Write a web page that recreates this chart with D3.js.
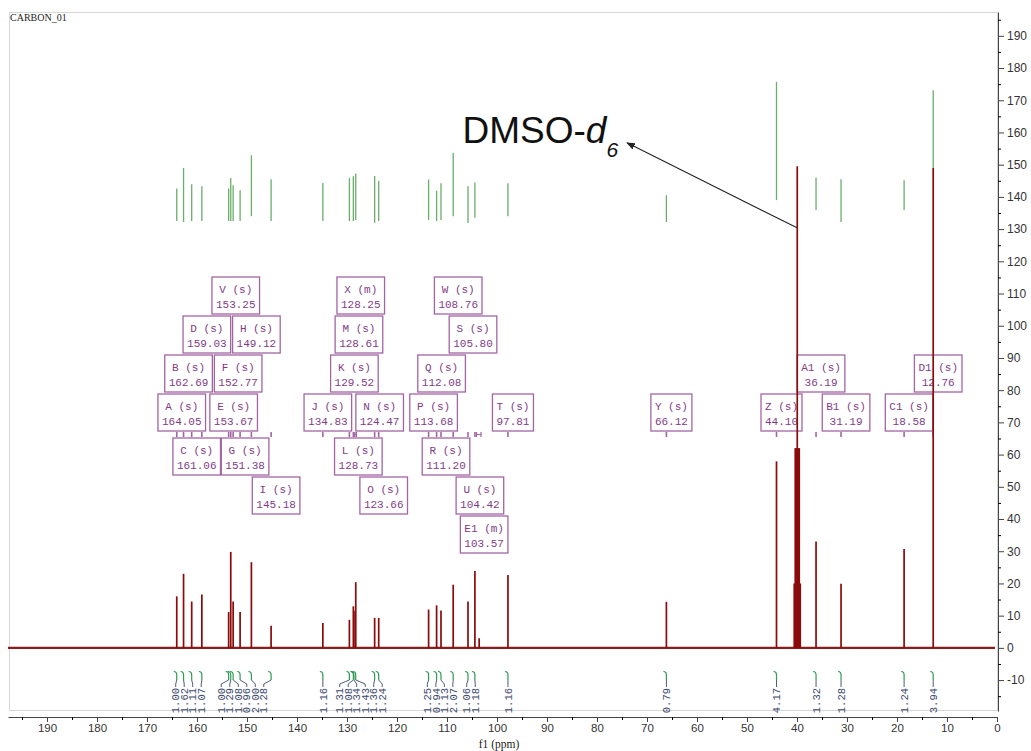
<!DOCTYPE html>
<html>
<head>
<meta charset="utf-8">
<script src="https://cdn.jsdelivr.net/npm/d3@7"></script>
<style>
  body { margin: 0; background: #fff; }
  svg { display: block; }
</style>
</head>
<body>
<div id="chart"></div>
<script>
// peak list (ppm, intensity on the right axis)
const peakNames = ['A','B','C','D','E','V','F','G','H','I','J','K','L','M','X','N','O','P','Q','R','W','S','U','E1','T','Y','Z','A1','B1','C1','D1'];
const peakShifts = [164.05,162.69,161.06,159.03,153.67,153.25,152.77,151.38,149.12,145.18,134.83,129.52,128.73,128.61,128.25,124.47,123.66,113.68,112.08,111.20,108.76,105.80,104.42,103.57,97.81,66.12,44.10,36.19,31.19,18.58,12.76];
const peakMult = ['s','s','s','s','s','s','s','s','s','s','s','s','s','s','m','s','s','s','s','s','s','s','s','m','s','s','s','s','s','s','s'];
const peakHeights = [16.0,23.0,14.4,16.6,11.1,29.8,14.4,11.1,26.6,6.9,7.7,8.7,12.9,11.5,20.4,9.3,9.3,11.9,13.2,11.6,19.6,14.4,23.9,3.0,22.6,14.3,57.9,33.0,19.9,30.7,149.0];

// solvent septet
const dmsoShifts = [40.55,40.35,40.15,39.95,39.75,39.55,39.35];
const dmsoHeights = [20,62,62,149.5,62,62,20];

// multiplet ranges (ppm)
const multNames = ['X','E1'];
const multRanges = [[128.40,128.10],[104.10,103.20]];

// predicted shifts (green sticks), top / bottom on the intensity axis
const predShifts = [164.05,162.69,161.06,159.03,153.67,153.25,152.77,151.38,149.12,145.18,134.83,129.52,128.73,128.25,124.47,123.66,113.68,112.08,111.20,108.76,105.80,104.42,97.81,66.12,44.10,36.19,31.19,18.58,12.76];
const predTop = [142.6,149.0,143.9,143.3,142.6,145.9,143.6,142.1,152.9,145.5,144.3,145.9,146.4,147.3,146.5,145.0,145.4,141.9,144.2,153.7,143.3,144.5,144.2,140.5,175.7,146.0,145.5,145.2,173.1];
const predBottom = [132.5,132.2,132.5,132.5,132.5,132.5,132.5,132.5,134.0,132.5,132.5,132.5,132.5,132.8,132.0,132.5,132.8,132.5,132.8,134.0,131.9,133.5,134.0,132.2,139.0,135.9,132.2,135.9,149.0];

// integrals
const intShifts = [164.05,162.69,161.06,159.03,153.67,153.25,152.77,151.38,149.12,145.18,134.83,129.52,128.73,128.61,128.25,124.47,123.66,113.68,112.08,111.20,108.76,105.80,104.42,97.81,66.12,44.10,36.19,31.19,18.58,12.76];
const intValues = [1.00,1.62,1.11,1.07,1.00,1.29,1.08,0.96,2.00,1.28,1.16,1.31,1.08,1.34,1.43,1.36,1.24,1.25,0.94,1.13,2.07,1.06,1.18,1.16,0.79,4.17,1.32,1.28,1.24,3.94];

const xTicks = d3.range(0, 191, 10);
const yTicks = d3.range(-10, 191, 10);

// layout: label box row per peak (0 = row right above the peak ticks)
const boxRow = {V:-3,X:-3,W:-3, D:-2,H:-2,M:-2,S:-2, B:-1,F:-1,K:-1,Q:-1,A1:-1,D1:-1,
  A:0,E:0,J:0,N:0,P:0,T:0,Y:0,Z:0,B1:0,C1:0, C:1,G:1,L:1,R:1, I:2,O:2,U:2, E1:3};

const W = 1031, H = 751;
const red = '#8b0a0a', green = '#6aae6a', purple = '#a265a4', purpleText = '#823c86';

const svg = d3.select('#chart').append('svg').attr('width', W).attr('height', H);

const x = d3.scaleLinear().domain([197.8, 0]).range([8, 997]);
const y = d3.scaleLinear().domain([-19.6, 197.4]).range([711, 12]);

// frame
svg.append('rect')
  .attr('x', 9.5).attr('y', 12.5).attr('width', 988).attr('height', 698)
  .attr('fill', 'none').attr('stroke', '#d6d6d6');

svg.append('text').attr('x', 10).attr('y', 21)
  .attr('font-family', 'Liberation Serif').attr('font-size', 10).attr('fill', '#222')
  .text('CARBON_01');

// predicted sticks
svg.append('g').selectAll('line').data(predShifts).enter().append('line')
  .attr('x1', d => x(d)).attr('x2', d => x(d))
  .attr('y1', (d, i) => y(predBottom[i])).attr('y2', (d, i) => y(predTop[i]))
  .attr('stroke', green).attr('stroke-width', 1.3);

// label boxes
const rowTop = r => r <= 0 ? 394 + 39 * r : 438 + 39 * (r - 1);
const charW = 6.6;
const boxes = svg.append('g');
peakNames.forEach((name, i) => {
  const head = `${name} (${peakMult[i]})`;
  const val = peakShifts[i].toFixed(2);
  const w = Math.max(head.length, val.length) * charW + 8;
  const cx = x(peakShifts[i]) + 5;
  const top = rowTop(boxRow[name]);
  boxes.append('rect').attr('x', cx - w / 2).attr('y', top).attr('width', w).attr('height', 37)
    .attr('fill', 'none').attr('stroke', purple).attr('stroke-width', 1.3);
  boxes.append('text').attr('x', cx).attr('y', top + 15.5).text(head);
  boxes.append('text').attr('x', cx).attr('y', top + 31).text(val);
});
boxes.selectAll('text')
  .attr('text-anchor', 'middle').attr('font-family', 'Liberation Mono')
  .attr('font-size', 11).attr('fill', purpleText);

// peak ticks
const ticks = svg.append('g').attr('stroke', purple).attr('stroke-width', 1.6);
peakShifts.forEach((d, i) => {
  if (peakMult[i] === 'm') return;
  ticks.append('line').attr('x1', x(d)).attr('x2', x(d)).attr('y1', 432).attr('y2', 437);
});
multRanges.forEach(r => {
  ticks.append('path')
    .attr('d', `M${x(r[0])},432V437M${x(r[1])},432V437M${x(r[0])},434.5H${x(r[1])}`)
    .attr('fill', 'none').attr('stroke-width', 1.2);
});

// spectrum
const spec = svg.append('g');
spec.append('line').attr('x1', x(197.8)).attr('x2', x(0.4))
  .attr('y1', y(0)).attr('y2', y(0))
  .attr('stroke', '#8b1c1c').attr('stroke-width', 2.4);
spec.selectAll('line.pk').data(peakShifts.concat(dmsoShifts)).enter().append('line')
  .attr('class', 'pk')
  .attr('x1', d => x(d)).attr('x2', d => x(d))
  .attr('y1', y(0)).attr('y2', (d, i) => y(i < peakShifts.length ? peakHeights[i] : dmsoHeights[i - peakShifts.length]))
  .attr('stroke', red).attr('stroke-width', 1.7);

// solvent annotation
svg.append('defs').append('marker')
  .attr('id', 'arr').attr('viewBox', '0 0 10 10').attr('refX', 9).attr('refY', 5)
  .attr('markerWidth', 8).attr('markerHeight', 8).attr('orient', 'auto')
  .append('path').attr('d', 'M0,1L10,5L0,9z').attr('fill', '#222');
svg.append('line')
  .attr('x1', x(40.0)).attr('y1', y(130.4)).attr('x2', x(74.0)).attr('y2', y(156.8))
  .attr('stroke', '#222').attr('stroke-width', 1.1).attr('marker-end', 'url(#arr)');
const dmso = svg.append('text').attr('x', x(106.9)).attr('y', y(156.7))
  .attr('font-family', 'Liberation Sans').attr('font-size', 37).attr('fill', '#111');
dmso.append('tspan').text('DMSO-');
dmso.append('tspan').attr('font-style', 'italic').text('d');
dmso.append('tspan').attr('font-style', 'italic').attr('font-size', 21).attr('dy', 14).text('6');

// integrals: group close ones and fan their labels out
const intX = intShifts.map(d => x(d));
const groups = [];
intX.forEach((px, i) => {
  const g = groups[groups.length - 1];
  if (g && px - intX[g[g.length - 1]] < 21) g.push(i); else groups.push([i]);
});
const labelX = [];
groups.forEach(g => {
  const pos = [];
  g.forEach((i, k) => pos.push(k === 0 ? intX[i] : Math.max(intX[i], pos[k - 1] + 8.5)));
  const shift = d3.mean(g, i => intX[i]) - d3.mean(pos);
  g.forEach((i, k) => { labelX[i] = pos[k] + shift; });
});

const integ = svg.append('g');
intX.forEach((px, i) => {
  const lx = labelX[i];
  integ.append('path')
    .attr('d', `M${px - 3},671.5C${px - 1},671.5 ${px},673 ${px},675V680`)
    .attr('fill', 'none').attr('stroke', '#2f9a55').attr('stroke-width', 1.2);
  integ.append('path')
    .attr('d', `M${px},680L${lx},684V687`)
    .attr('fill', 'none').attr('stroke', '#3c4a6e').attr('stroke-width', 0.9);
  integ.append('text')
    .attr('transform', `translate(${lx},688) rotate(-90)`)
    .attr('dy', '0.35em').attr('text-anchor', 'end')
    .attr('font-family', 'Liberation Mono').attr('font-size', 10.5).attr('fill', '#3c4a6e')
    .text(intValues[i].toFixed(2));
});

// axes
const fmt = d => String(d);
const xAxis = svg.append('g').attr('transform', 'translate(0,717)')
  .call(d3.axisBottom(x).tickValues(xTicks).tickFormat(fmt).tickSize(5).tickSizeOuter(0).tickPadding(2));
svg.append('g').attr('transform', 'translate(0,717)')
  .call(d3.axisBottom(x).tickValues(d3.range(5, 196, 10)).tickFormat('').tickSize(3).tickSizeOuter(0))
  .select('.domain').remove();
xAxis.selectAll('text').attr('font-family', 'Liberation Sans').attr('font-size', 11.5).attr('fill', '#333');
xAxis.select('.domain').attr('stroke', '#444');
xAxis.selectAll('.tick line').attr('stroke', '#444');

svg.append('text').attr('x', 499).attr('y', 748).attr('text-anchor', 'middle')
  .attr('font-family', 'Liberation Serif').attr('font-size', 11.5).attr('fill', '#222')
  .text('f1 (ppm)');

const yAxis = svg.append('g').attr('transform', 'translate(998,0)')
  .call(d3.axisRight(y).tickValues(yTicks).tickFormat(fmt).tickSize(6).tickSizeOuter(0).tickPadding(3));
svg.append('g').attr('transform', 'translate(998,0)')
  .call(d3.axisRight(y).tickValues(d3.range(-15, 196, 10)).tickFormat('').tickSize(3).tickSizeOuter(0))
  .select('.domain').remove();
yAxis.selectAll('text').attr('font-family', 'Liberation Sans').attr('font-size', 12).attr('fill', '#333');
yAxis.select('.domain').attr('stroke', '#444');
yAxis.selectAll('.tick line').attr('stroke', '#444');
</script>
</body>
</html>
